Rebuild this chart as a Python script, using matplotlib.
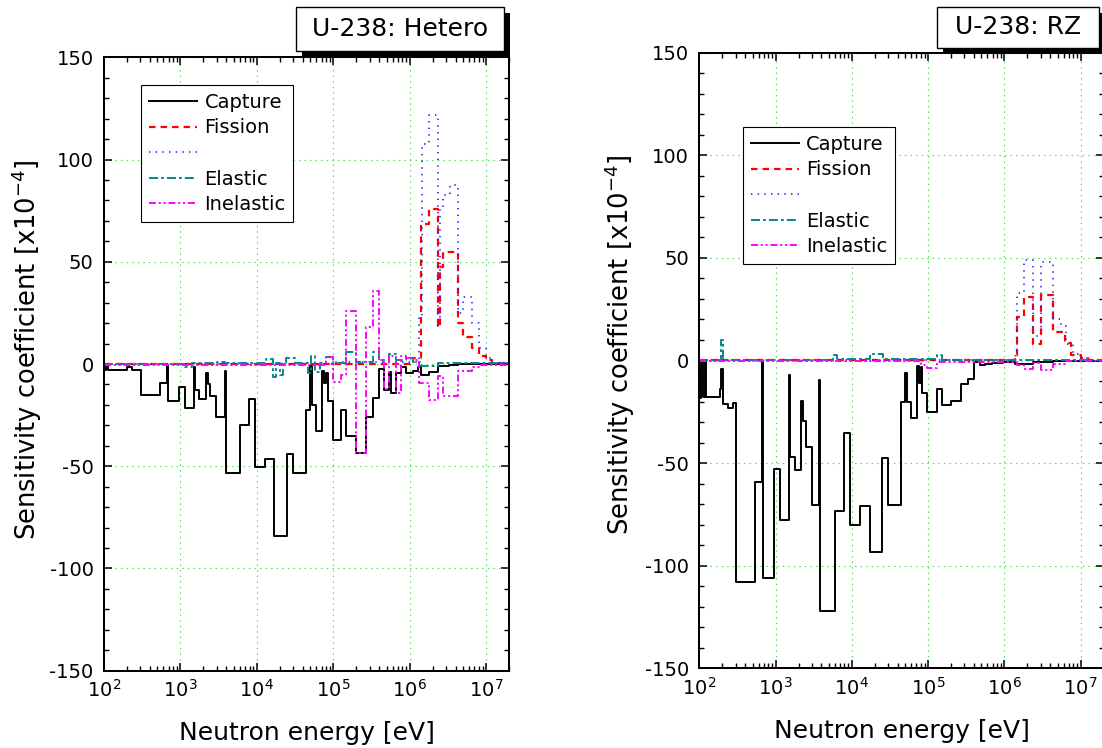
import matplotlib
matplotlib.use('Agg')
import matplotlib.pyplot as plt
import matplotlib.ticker as mtick
from matplotlib.patches import Rectangle

# Group boundaries [eV] and sensitivity per group [x1e-4]
# ---- U-238: Hetero ----
het_cap_e = [1.0e2, 1.06e2, 1.12e2, 1.98e2, 2.30e2, 3.01e2, 5.38e2, 6.70e2, 6.90e2, 9.53e2,
             1.164e3, 1.495e3, 1.56e3, 1.755e3, 2.19e3, 2.28e3, 2.47e3, 2.96e3, 3.80e3, 3.90e3,
             5.96e3, 7.81e3, 9.36e3, 1.29e4, 1.67e4, 2.47e4, 2.96e4, 4.42e4, 4.99e4, 5.19e4,
             5.97e4, 7.16e4, 7.60e4, 8.08e4, 8.48e4, 9.86e4, 1.24e5, 1.47e5, 1.95e5, 2.69e5,
             3.28e5, 4.01e5, 4.66e5, 5.42e5, 5.70e5, 6.62e5, 7.69e5, 8.95e5, 1.09e6, 1.27e6,
             1.40e6, 1.80e6, 2.31e6, 3.29e6, 4.22e6, 2.0e7]
het_cap_s = [-3.0, -0.3, -2.9, -1.3, -2.9, -15.1, -9.1, -0.5, -17.9, -11.1,
             -21.5, -1.6, -12.7, -16.9, -4.2, -9.8, -15.6, -25.7, -3.3, -53.4,
             -29.8, -16.9, -50.6, -46.4, -84.0, -44.0, -53.4, -22.5, -1.0, -20.0,
             -33.0, -3.3, -9.4, -4.6, -17.9, -37.0, -22.5, -35.2, -43.6, -26.0,
             -16.8, -2.6, -12.7, -4.0, -14.3, -4.6, -1.3, -4.6, -3.5, -1.5,
             -5.4, -3.7, -1.2, -0.6, -0.2]

het_fis_e = [1.0e2, 1.09e6, 1.40e6, 1.80e6, 2.31e6, 2.45e6, 2.70e6, 4.22e6, 4.90e6,
             6.50e6, 8.10e6, 1.0e7, 1.2e7, 2.0e7]
het_fis_s = [0.2, 3.0, 68.7, 75.6, 18.2, 47.5, 55.0, 20.0, 13.4, 8.0, 4.0, 2.0, 0.3]

het_nu_e = [1.0e2, 1.0e5, 1.33e6, 1.45e6, 1.80e6, 2.31e6, 2.45e6, 2.70e6, 3.40e6, 4.22e6,
            4.90e6, 6.50e6, 8.10e6, 1.0e7, 1.2e7, 2.0e7]
het_nu_s = [0.2, 1.0, 23.0, 107.8, 122.0, 18.2, 75.6, 82.5, 87.4, 25.0, 33.0, 20.0, 7.8, 3.0, 0.5]

het_ela_e = [1.0e2, 1.14e3, 1.40e3, 3.0e3, 3.8e3, 1.33e4, 1.62e4, 1.80e4, 1.99e4, 2.19e4,
             2.43e4, 3.11e4, 4.65e4, 5.14e4, 5.69e4, 6.61e4, 8.07e4, 9.86e4, 1.47e5, 1.95e5,
             3.28e5, 4.01e5, 5.42e5, 6.62e5, 8.95e5, 1.09e6, 1.40e6, 2.31e6, 2.0e7]
het_ela_s = [0.2, -1.3, 0.5, 1.2, 0.5, 2.3, -6.2, 0.5, -5.4, 0.5,
             3.0, 0.5, -4.5, 3.9, -3.7, 0.5, 3.5, 0.5, 6.0, 0.8,
             6.0, 2.0, 5.0, 2.0, 3.0, 1.0, -1.2, 0.3]

het_ine_e = [1.0e2, 8.07e4, 9.86e4, 1.24e5, 1.47e5, 1.95e5, 2.69e5, 3.28e5, 4.01e5, 4.66e5,
             5.42e5, 6.62e5, 7.69e5, 8.95e5, 1.09e6, 1.33e6, 1.80e6, 2.31e6, 2.70e6, 4.22e6,
             6.50e6, 8.10e6, 2.0e7]
het_ine_s = [-0.4, 3.6, -8.6, -5.4, 26.0, -43.6, 18.2, 35.5, 2.0, -12.0,
             4.0, -14.0, 4.0, 3.0, 2.0, -9.4, -17.6, -6.0, -15.6, -3.5,
             -1.5, -0.3]

# ---- U-238: RZ ----
rz_cap_e = [1.0e2, 1.04e2, 1.12e2, 1.18e2, 1.24e2, 1.85e2, 1.94e2, 2.04e2, 2.38e2, 2.76e2,
            3.00e2, 5.42e2, 6.63e2, 6.90e2, 9.53e2, 1.143e3, 1.50e3, 1.56e3, 1.78e3, 2.13e3,
            2.29e3, 2.53e3, 3.03e3, 3.67e3, 3.82e3, 5.94e3, 7.87e3, 9.53e3, 1.29e4, 1.71e4,
            2.48e4, 2.97e4, 4.45e4, 5.02e4, 5.23e4, 5.90e4, 7.20e4, 7.51e4, 7.98e4, 8.30e4,
            9.73e4, 1.29e5, 1.50e5, 1.97e5, 2.67e5, 3.30e5, 3.98e5, 4.77e5, 5.55e5, 6.79e5,
            9.64e5, 1.37e6, 2.38e6, 4.36e6, 2.0e7]
rz_cap_s = [-18.5, -0.5, -17.7, -0.5, -17.7, -13.8, -3.9, -21.3, -23.1, -20.7,
            -107.8, -59.1, -0.5, -105.9, -52.9, -77.8, -7.2, -46.9, -53.4, -19.8,
            -29.6, -42.1, -70.2, -9.6, -122.0, -73.4, -35.3, -80.2, -70.8, -93.5,
            -47.7, -70.2, -20.1, -6.3, -20.1, -27.9, -2.8, -11.2, -3.0, -15.6,
            -25.0, -13.7, -21.8, -19.8, -11.5, -9.1, -0.7, -2.3, -1.5, -1.2,
            -0.8, -1.5, -0.8, -0.3]

rz_fis_e = [1.0e2, 1.37e6, 1.47e6, 1.80e6, 2.38e6, 2.98e6, 4.29e6, 6.20e6, 7.50e6,
            1.0e7, 1.25e7, 2.0e7]
rz_fis_s = [0.2, 2.6, 21.2, 31.0, 8.0, 32.0, 14.0, 8.3, 2.6, 1.0, 0.2]

rz_nu_e = [1.0e2, 1.37e6, 1.47e6, 1.80e6, 2.38e6, 2.98e6, 4.29e6, 5.50e6, 6.50e6, 8.0e6,
           1.0e7, 1.25e7, 2.0e7]
rz_nu_s = [0.2, 2.0, 33.0, 49.0, 12.0, 48.0, 20.0, 17.0, 8.0, 3.0, 1.0, 0.2]

rz_ela_e = [1.0e2, 1.94e2, 2.04e2, 5.7e3, 6.3e3, 1.73e4, 2.57e4, 1.29e5, 1.50e5, 2.0e7]
rz_ela_s = [0.3, 10.0, 0.3, 2.6, 0.5, 3.4, 0.5, 2.5, 0.3]

rz_ine_e = [1.0e2, 8.0e4, 9.73e4, 1.29e5, 1.47e6, 1.80e6, 2.38e6, 2.98e6, 4.29e6, 6.5e6, 2.0e7]
rz_ine_s = [-0.3, -2.0, -3.5, -0.5, -2.0, -4.0, -1.0, -4.5, -1.5, -0.2]

legend_labels = ['Capture', 'Fission', ' ', 'Elastic', 'Inelastic']
y_ticks = [-150, -100, -50, 0, 50, 100, 150]

plt.rcParams['font.family'] = ['DejaVu Sans']
plt.rcParams['axes.unicode_minus'] = False
plt.rcParams['lines.scale_dashes'] = False
plt.rcParams['mathtext.default'] = 'regular'

styles = [dict(color='black', lw=1.4, ls='-'),
          dict(color='#ff0000', lw=1.6, ls=(0, (4.7, 3.6))),
          dict(color='#2020ff', lw=1.2, ls=(0, (1.0, 3.8))),
          dict(color='#008b8b', lw=1.4, ls=(0, (6.5, 2.2, 2.0, 2.2))),
          dict(color='#ff00ff', lw=1.4, ls=(0, (5.0, 2.0, 1.5, 2.0, 1.5, 2.0)))]

W, H = 1102, 748


def px_rect(x0, y0, x1, y1):
    # pixel box (top-left origin) -> figure fraction [left, bottom, width, height]
    return [x0 / W, 1 - y1 / H, (x1 - x0) / W, (y1 - y0) / H]


def draw_step(ax, e, s, st):
    return ax.step(e, list(s) + [s[-1]], where='post', **st)[0]


def panel(ax, series, leg_xy, ylab_xy, xlab_y):
    lines = [draw_step(ax, e, s, st) for (e, s), st in zip(series, styles)]
    ax.set_xscale('log')
    ax.set_xlim(1e2, 2e7)
    ax.set_ylim(-150, 150)
    ax.set_yticks(y_ticks)
    ax.yaxis.set_minor_locator(mtick.MultipleLocator(10))
    ax.set_axisbelow(True)
    ax.grid(True, which='major', color='#44dd44', ls=(0, (1, 3)), lw=0.8)
    ax.tick_params(which='both', direction='in', top=True, right=True, labelsize=14)
    ax.tick_params(which='major', length=5.8, width=1.1)
    ax.tick_params(which='minor', length=3.6, width=1.0)
    ax.tick_params(axis='x', pad=6)
    ax.tick_params(axis='y', pad=7.5)
    for sp in ax.spines.values():
        sp.set_linewidth(1.45)
    ax.set_xlabel('Neutron energy [eV]', fontsize=18)
    ax.set_ylabel('Sensitivity coefficient [x10$^{-4}$]', fontsize=18.5)
    ax.xaxis.set_label_coords(0.5, xlab_y)
    ax.yaxis.set_label_coords(*ylab_xy)
    leg = ax.legend(lines, legend_labels, loc='upper left', bbox_to_anchor=leg_xy,
                    borderaxespad=0, fontsize=14, handlelength=2.5, handletextpad=0.36,
                    labelspacing=0.34, borderpad=0.4, fancybox=False, edgecolor='black',
                    framealpha=1)
    leg.get_frame().set_linewidth(0.8)


def title_box(fig, text, box, shift=6):
    x0, y0, x1, y1 = box
    fig.add_artist(Rectangle(px_rect(x0 + shift, y0 + shift, x1 + shift, y1 + shift)[:2],
                             (x1 - x0) / W, (y1 - y0) / H, transform=fig.transFigure,
                             fc='black', ec='none', zorder=5))
    fig.add_artist(Rectangle(px_rect(x0, y0, x1, y1)[:2], (x1 - x0) / W, (y1 - y0) / H,
                             transform=fig.transFigure, fc='white', ec='black', lw=1.0, zorder=6))
    fig.text((x0 + x1) / 2 / W, 1 - (y0 + y1) / 2 / H, text, ha='center', va='center',
             fontsize=18, zorder=7)


fig = plt.figure(figsize=(W / 100, H / 100), dpi=100)
axL = fig.add_axes(px_rect(104, 57.3, 509.3, 670.7))
axR = fig.add_axes(px_rect(699.3, 52.7, 1103.6, 668.3))

panel(axL, [(het_cap_e, het_cap_s), (het_fis_e, het_fis_s), (het_nu_e, het_nu_s),
            (het_ela_e, het_ela_s), (het_ine_e, het_ine_s)],
      leg_xy=(0.0913, 0.9548), ylab_xy=(-0.148, 0.524), xlab_y=-0.082)
panel(axR, [(rz_cap_e, rz_cap_s), (rz_fis_e, rz_fis_s), (rz_nu_e, rz_nu_s),
            (rz_ela_e, rz_ela_s), (rz_ine_e, rz_ine_s)],
      leg_xy=(0.108, 0.8793), ylab_xy=(-0.154, 0.525), xlab_y=-0.0824)

title_box(fig, 'U-238: Hetero', (296, 7, 504, 51))
title_box(fig, 'U-238: RZ', (937, 7, 1099, 48))

fig.savefig('out.png', dpi=100)
